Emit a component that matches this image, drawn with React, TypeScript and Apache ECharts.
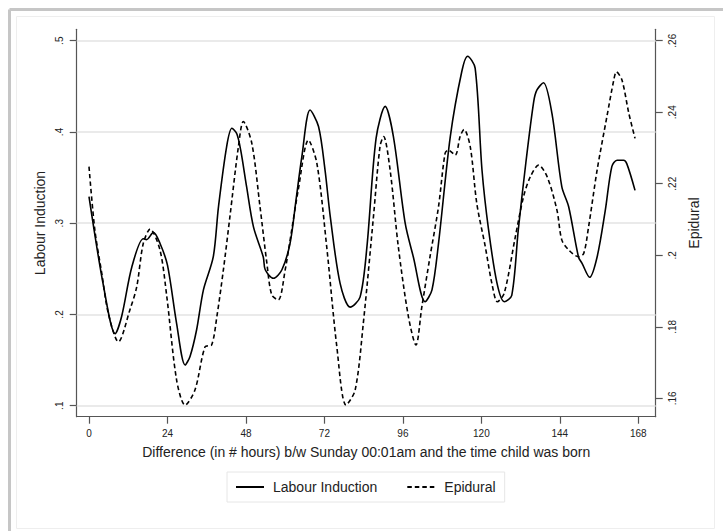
import React, { useEffect, useRef } from "react";
import * as echarts from "echarts";

const xTicks = [0, 24, 48, 72, 96, 120, 144, 168];
const leftTicks = [0.1, 0.2, 0.3, 0.4, 0.5];
const rightTicks = [0.16, 0.18, 0.2, 0.22, 0.24, 0.26];

const labourHours = [0, 4.4, 8, 10, 13.1, 16.6, 17.6, 19.7, 21.7, 24, 26.8, 29.4, 30.9, 32.9, 35, 38, 39.6, 42.1, 43.7, 45.2, 46.4, 48.2, 50.3, 53.3, 53.9, 56.4, 59, 61.5, 63.3, 65.1, 67.6, 70.2, 72.2, 73.8, 76.8, 79.9, 82.9, 85, 87.8, 90.6, 93.1, 96.7, 99.2, 102.8, 104.9, 106.9, 110.5, 114, 115.8, 118.1, 120.2, 122.2, 124.8, 127, 129.3, 131.3, 133.6, 136, 137, 139, 141.6, 144.6, 146.7, 149.7, 150.8, 153.1, 155.4, 157.9, 159.9, 161.5, 163.5, 164.5, 167];
const labourValues = [0.329, 0.232, 0.179, 0.198, 0.252, 0.283, 0.282, 0.29, 0.278, 0.254, 0.19, 0.1446, 0.154, 0.183, 0.227, 0.263, 0.318, 0.384, 0.404, 0.398, 0.38, 0.34, 0.296, 0.263, 0.249, 0.2396, 0.249, 0.278, 0.325, 0.373, 0.424, 0.406, 0.358, 0.307, 0.234, 0.208, 0.219, 0.274, 0.393, 0.428, 0.395, 0.3, 0.263, 0.214, 0.227, 0.278, 0.395, 0.466, 0.483, 0.47, 0.358, 0.293, 0.234, 0.214, 0.221, 0.293, 0.366, 0.433, 0.446, 0.454, 0.42, 0.34, 0.318, 0.263, 0.256, 0.2407, 0.263, 0.314, 0.362, 0.369, 0.369, 0.365, 0.336];

const epiduralHours = [0, 1.8, 3.9, 5.9, 9, 12.5, 14.6, 16.6, 18.7, 21.7, 23.8, 26.8, 29.4, 32.4, 35.5, 37.5, 39.1, 41.1, 43.1, 45.7, 47.2, 49.8, 52.3, 54.4, 55.9, 57.9, 60, 62, 64, 67.1, 69.7, 72.7, 75.8, 78.6, 81.4, 83.9, 87, 89, 90.1, 92.1, 94.6, 97.7, 100, 101.8, 104.3, 106.9, 108.9, 109.9, 112, 113.5, 114.7, 116.6, 118.6, 121.2, 123.2, 124.9, 127, 130.4, 132.9, 135, 137.5, 140.1, 143.1, 144.6, 146.7, 149.7, 151.3, 152.8, 155.4, 158.4, 160.5, 161.3, 163, 165.1, 167];
const epiduralValues = [0.2248, 0.207, 0.195, 0.1838, 0.1758, 0.1847, 0.1912, 0.2033, 0.2073, 0.2015, 0.1884, 0.1651, 0.1581, 0.1623, 0.1744, 0.1749, 0.1828, 0.1959, 0.2108, 0.2304, 0.2374, 0.2313, 0.2136, 0.1978, 0.1889, 0.1875, 0.1959, 0.2071, 0.2183, 0.2322, 0.2257, 0.2024, 0.1744, 0.1581, 0.1623, 0.181, 0.2108, 0.2304, 0.2332, 0.2238, 0.2024, 0.1828, 0.1749, 0.1856, 0.1996, 0.2136, 0.2285, 0.2294, 0.228, 0.2332, 0.2352, 0.2304, 0.2145, 0.2024, 0.1922, 0.187, 0.1894, 0.2052, 0.2164, 0.222, 0.2252, 0.222, 0.2127, 0.2043, 0.2015, 0.1996, 0.2005, 0.208, 0.2238, 0.2388, 0.249, 0.2513, 0.249, 0.2397, 0.2327];

const FONT = "'Liberation Sans', Arial, sans-serif";

const fmt = (v: number) => {
  const s = String(Math.round(v * 100) / 100);
  return s.replace(/^0\./, ".");
};

export default function App() {
  const ref = useRef<HTMLDivElement>(null);
  useEffect(() => {
    if (!ref.current) return;
    const chart = echarts.init(ref.current, undefined, { renderer: "svg" });
    const labourData = labourHours.map((h, i) => [h, labourValues[i]]);
    const epiduralData = epiduralHours.map((h, i) => [h, epiduralValues[i]]);
    const axisLineStyle = { color: "#555", width: 1.2 };
    const yAxisCommon = {
      type: "value" as const,
      splitLine: { show: false },
      axisLine: { show: true, onZero: false, lineStyle: axisLineStyle },
      axisTick: { show: true, length: 7, lineStyle: axisLineStyle },
      axisLabel: {
        rotate: 90,
        margin: 12,
        fontSize: 10,
        color: "#222",
        fontFamily: FONT,
        formatter: (v: number) => fmt(v),
      },
      nameLocation: "middle" as const,
      nameRotate: 90,
      nameTextStyle: { fontSize: 14, color: "#222", fontFamily: FONT },
    };
    chart.setOption({
      animation: false,
      backgroundColor: "#fff",
      textStyle: { fontFamily: FONT },
      graphic: [
        { type: "line", shape: { x1: 9.5, y1: 9.5, x2: 9.5, y2: 531 }, style: { stroke: "#c6c6c6", lineWidth: 3 }, silent: true },
        { type: "line", shape: { x1: 9.5, y1: 9.5, x2: 723, y2: 9.5 }, style: { stroke: "#c6c6c6", lineWidth: 3 }, silent: true },
        { type: "rect", shape: { x: 16.5, y: 16.5, width: 698, height: 512 }, style: { fill: "none", stroke: "#eeeeee", lineWidth: 1 }, silent: true },
      ],
      grid: { left: 76.7, top: 29.3, width: 579, height: 387.4, containLabel: false },
      legend: {
        left: 227,
        top: 472,
        orient: "horizontal",
        padding: [8, 9, 8, 8],
        itemWidth: 28,
        itemHeight: 14,
        itemGap: 29,
        borderColor: "#e6e6e6",
        borderWidth: 1,
        itemStyle: { opacity: 0 },
        textStyle: { fontSize: 14, color: "#222", fontFamily: FONT, padding: [0, 0, 0, 4] },
        data: ["Labour Induction", "Epidural"],
      },
      xAxis: {
        type: "value",
        min: -3.76,
        max: 173.32,
        name: "Difference (in # hours) b/w Sunday 00:01am and the time child was born",
        nameLocation: "middle",
        nameGap: 28,
        nameTextStyle: { fontSize: 14, color: "#222", fontFamily: FONT },
        splitLine: { show: false },
        axisLine: { show: true, onZero: false, lineStyle: axisLineStyle },
        axisTick: { show: true, length: 7, lineStyle: axisLineStyle, customValues: xTicks },
        axisLabel: { margin: 12, fontSize: 10, color: "#222", fontFamily: FONT, customValues: xTicks },
      },
      yAxis: [
        {
          ...yAxisCommon,
          position: "left",
          min: 0.08795,
          max: 0.5125,
          name: "Labour Induction",
          nameGap: 24,
          axisTick: { ...yAxisCommon.axisTick, customValues: leftTicks },
          axisLabel: { ...yAxisCommon.axisLabel, customValues: leftTicks },
        },
        {
          ...yAxisCommon,
          position: "right",
          min: 0.154855,
          max: 0.26319,
          name: "Epidural",
          nameGap: 31,
          axisTick: { ...yAxisCommon.axisTick, customValues: rightTicks },
          axisLabel: { ...yAxisCommon.axisLabel, customValues: rightTicks },
        },
      ],
      series: [
        {
          name: "Labour Induction",
          type: "line",
          yAxisIndex: 0,
          data: labourData,
          smooth: 0.3,
          symbol: "none",
          lineStyle: { color: "#000", width: 1.6, type: "solid" },
          itemStyle: { color: "#000" },
          z: 3,
          markLine: {
            silent: true,
            symbol: "none",
            label: { show: false },
            lineStyle: { color: "#e3e3e3", width: 1.5, type: "solid" },
            data: leftTicks.map((v) => ({ yAxis: v })),
            z: 1,
          },
        },
        {
          name: "Epidural",
          type: "line",
          yAxisIndex: 1,
          data: epiduralData,
          smooth: 0.3,
          symbol: "none",
          lineStyle: { color: "#000", width: 1.6, type: [4.5, 3] },
          itemStyle: { color: "#000" },
          z: 3,
        },
      ],
    });
    return () => chart.dispose();
  }, []);
  return (
    <div
      ref={ref}
      style={{ position: "absolute", left: 0, top: 0, width: 723, height: 531 }}
    />
  );
}
